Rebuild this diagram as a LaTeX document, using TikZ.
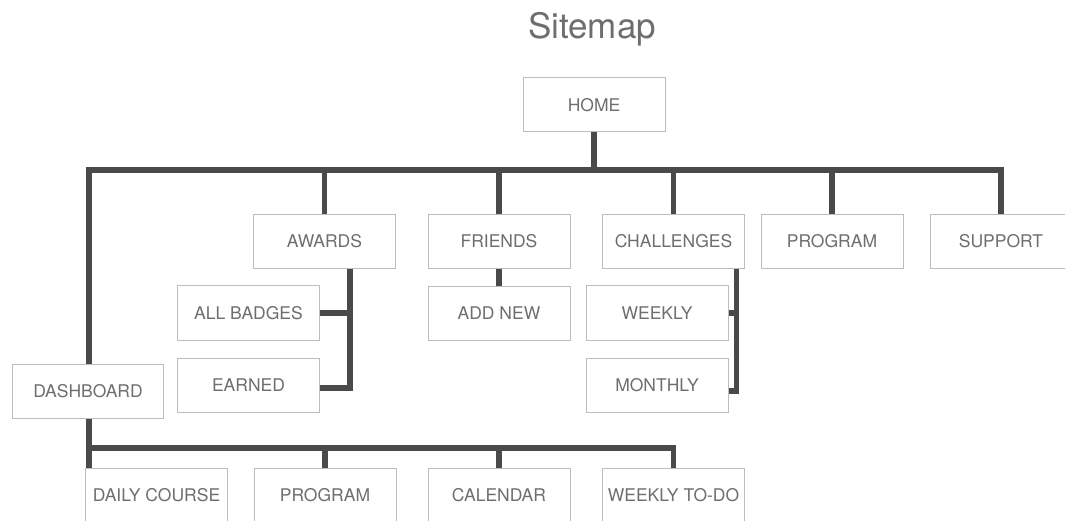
\documentclass[tikz,border=0pt]{standalone}
\usepackage{fontspec}
\setmainfont{TeX Gyre Heros}
\usetikzlibrary{positioning}

\definecolor{boxline}{HTML}{BDBDBD}
\definecolor{labelgray}{HTML}{6E6E6E}
\definecolor{wire}{HTML}{4A4A4A}

\begin{document}
\begin{tikzpicture}[x=1pt, y=-1pt,
	page/.style={rectangle, draw=boxline, line width=1pt, fill=white, text=labelgray,
		minimum width=142pt, minimum height=54pt, font=\fontsize{17.5}{20}\selectfont},
	link/.style={draw=wire, line width=5.5pt, line join=miter}]

		\useasboundingbox (0,0) rectangle (1065,521);

		\node[text=labelgray, font=\fontsize{35}{40}\selectfont] (title) at (592,29) {Sitemap};

		% top level
		\node[page] (home) at (594,105) {HOME};
		\node[page, minimum width=151pt] (dash) at (88,391) {DASHBOARD};
		\node[page] (awards) at (324.5,241.5) {AWARDS};
		\node[page] (friends) at (499,241.5) {FRIENDS};
		\node[page] (challenges) at (673.5,241.5) {CHALLENGES};
		\node[page] (program) at (832,241.5) {PROGRAM};
		\node[page] (support) at (1001,241.5) {SUPPORT};

		% second level
		\node[page] (badges) at (248.5,313) {ALL BADGES};
		\node[page] (earned) [below=17pt of badges] {EARNED};
		\node[page] (addnew) [below=17pt of friends] {ADD NEW};
		\node[page] (weekly) at (657,313) {WEEKLY};
		\node[page] (monthly) [below=17pt of weekly] {MONTHLY};

		% dashboard pages
		\node[page] (daily) at (156.5,495) {DAILY COURSE};
		\node[page] (course) at (325,495) {PROGRAM};
		\node[page] (calendar) at (499,495) {CALENDAR};
		\node[page] (todo) at (673.5,495) {WEEKLY TO-DO};

		\coordinate (hub) at (home.south |- 0,170);
		\coordinate (hub2) at (89,448);

		\path[link]
		(home.south) -- (hub)
		(dash.north -| hub2) |- (hub) -| (support.north)
		(hub2 |- dash.south) -- (hub2) -| (todo.north)
		(hub2) -- (hub2 |- daily.north)
		(friends.south) -- (addnew.north)
		([xshift=25.5pt]awards.south) |- ([yshift=-3pt]earned.east)
		(badges.east) -| ([xshift=25.5pt]awards.south)
		([xshift=63pt]challenges.south) |- ([yshift=-6pt]monthly.east)
		(weekly.east) -| ([xshift=63pt]challenges.south);

		\foreach \n in {awards, friends, challenges, program}
			\path[link] (\n.north) -- (\n.north |- hub);
		\foreach \n in {course, calendar}
			\path[link] (\n.north) -- (\n.north |- hub2);

		\end{tikzpicture}
\end{document}
